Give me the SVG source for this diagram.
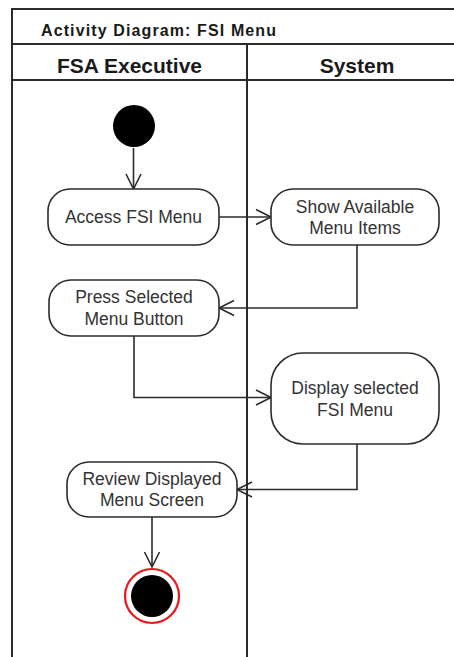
<svg xmlns="http://www.w3.org/2000/svg" width="454" height="657" viewBox="0 0 454 657">
  <style>
    .frame { fill: none; stroke: #2b2b2b; stroke-width: 2; }
    .action { fill: #ffffff; stroke: #2b2b2b; stroke-width: 1.6; }
    .flow { fill: none; stroke: #2b2b2b; stroke-width: 1.6; }
    .label { font-family: "Liberation Sans", Arial, sans-serif; font-size: 17.5px; fill: #333333; text-anchor: middle; }
    .title { font-family: "Liberation Sans", Arial, sans-serif; font-size: 16px; font-weight: bold; fill: #1a1a1a; }
    .lane { font-family: "Liberation Sans", Arial, sans-serif; font-size: 21px; font-weight: bold; fill: #1a1a1a; text-anchor: middle; }
  </style>
  <defs>
    <marker id="open-arrow" markerUnits="userSpaceOnUse" markerWidth="20" markerHeight="20" viewBox="-16 -10 20 20" refX="0" refY="0" orient="auto">
      <path d="M -15 -7.5 L 0 0 L -15 7.5" fill="none" stroke="#2b2b2b" stroke-width="1.6"/>
    </marker>
  </defs>

  <rect x="0" y="0" width="454" height="657" fill="#ffffff"/>

  <!-- frame, title bar and swimlanes -->
  <g id="frame">
    <path class="frame" d="M 12 657 V 9 H 454 M 12 44 H 454 M 12 80 H 454 M 247 44 V 657"/>
    <text class="title" x="41" y="36" textLength="235" lengthAdjust="spacing">Activity Diagram: FSI Menu</text>
    <text class="lane" x="129.5" y="73">FSA Executive</text>
    <text class="lane" x="357" y="73">System</text>
  </g>

  <!-- control flows -->
  <g id="connectors">
    <path class="flow" d="M 133.5 148 V 189" marker-end="url(#open-arrow)"/>
    <path class="flow" d="M 219 217 H 271" marker-end="url(#open-arrow)"/>
    <path class="flow" d="M 357 245 V 308 H 219" marker-end="url(#open-arrow)"/>
    <path class="flow" d="M 134 336 V 397.5 H 271" marker-end="url(#open-arrow)"/>
    <path class="flow" d="M 357 444 V 489.5 H 237" marker-end="url(#open-arrow)"/>
    <path class="flow" d="M 152 517 V 567" marker-end="url(#open-arrow)"/>
  </g>

  <g id="start">
    <circle cx="134" cy="126" r="21" fill="#000000"/>
  </g>

  <g id="access-fsi-menu">
    <rect class="action" x="48" y="189" width="171" height="56" rx="22" ry="22"/>
    <text class="label" x="133.5" y="223">Access FSI Menu</text>
  </g>

  <g id="show-available-menu-items">
    <rect class="action" x="271" y="189" width="168" height="56" rx="22" ry="22"/>
    <text class="label" x="355" y="213">Show Available</text>
    <text class="label" x="355" y="234">Menu Items</text>
  </g>

  <g id="press-selected-menu-button">
    <rect class="action" x="49" y="280" width="170" height="56" rx="22" ry="22"/>
    <text class="label" x="134" y="303">Press Selected</text>
    <text class="label" x="134" y="325">Menu Button</text>
  </g>

  <g id="display-selected-fsi-menu">
    <rect class="action" x="271" y="353" width="168" height="91" rx="32" ry="32"/>
    <text class="label" x="355" y="394">Display selected</text>
    <text class="label" x="355" y="416">FSI Menu</text>
  </g>

  <g id="review-displayed-menu-screen">
    <rect class="action" x="67" y="462" width="170" height="55" rx="22" ry="22"/>
    <text class="label" x="152" y="485">Review Displayed</text>
    <text class="label" x="152" y="506">Menu Screen</text>
  </g>

  <g id="end">
    <circle cx="152" cy="596" r="27" fill="#ffffff" stroke="#e8191c" stroke-width="2.2"/>
    <circle cx="152" cy="596" r="21" fill="#000000"/>
  </g>
</svg>
